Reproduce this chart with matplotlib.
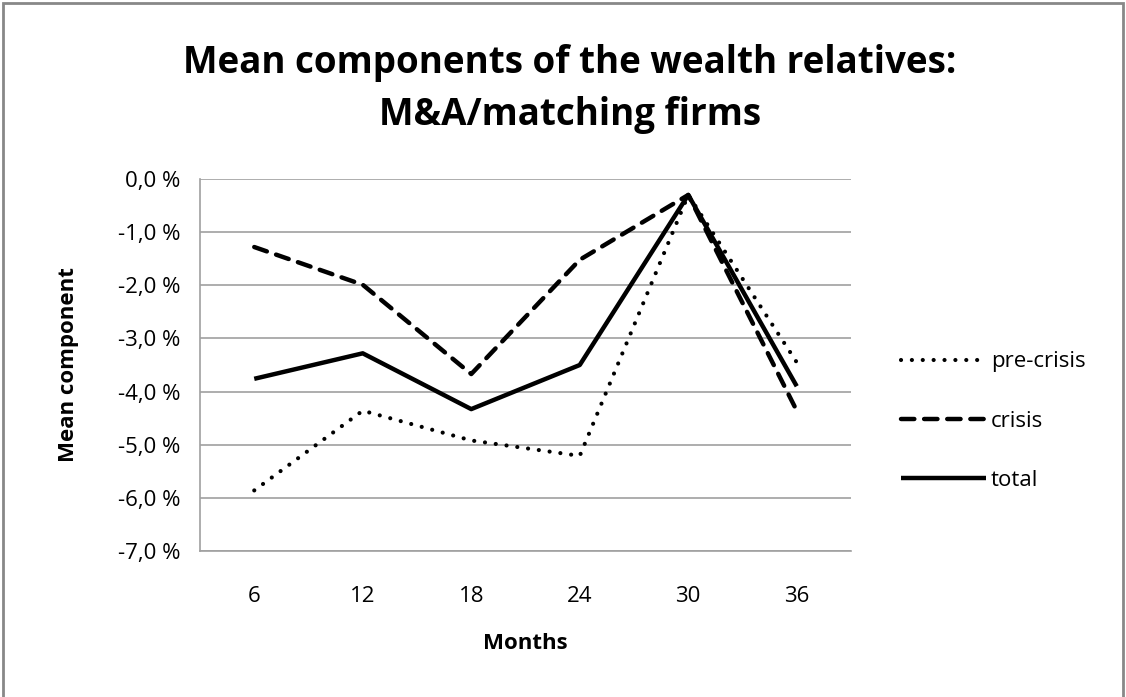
import matplotlib
matplotlib.use("Agg")
import matplotlib.pyplot as plt
from matplotlib.patches import Rectangle
from matplotlib.ticker import FuncFormatter

months = ["6", "12", "18", "24", "30", "36"]
pre_crisis = [-5.86, -4.36, -4.92, -5.21, -0.30, -3.45]
crisis = [-1.28, -1.99, -3.67, -1.52, -0.30, -4.36]
total = [-3.76, -3.28, -4.33, -3.50, -0.30, -3.90]

plt.rcParams['font.family'] = ['Open Sans', 'DejaVu Sans']

fig = plt.figure(figsize=(11.26, 6.97), dpi=100)
fig.patches.append(Rectangle((0.003, -0.01), 0.994, 1.005, transform=fig.transFigure,
                             fill=False, edgecolor='#888888', linewidth=2))

ax = fig.add_axes([200/1126, (697-551)/697, 651/1126, 372/697])
x = list(range(1, len(months) + 1))

ax.plot(x, pre_crisis, color='black', linewidth=3.0, linestyle=(0, (0.01, 2.6)),
        dash_capstyle='round', label='pre-crisis')
ax.plot(x, crisis, color='black', linewidth=3.2, linestyle=(0, (3.0, 2.2)),
        dash_capstyle='round', label='crisis')
ax.plot(x, total, color='black', linewidth=3.2, solid_capstyle='butt', label='total')

ax.set_xlim(0.5, 6.5)
ax.set_ylim(-7, 0)
ax.set_yticks([0, -1, -2, -3, -4, -5, -6, -7])
ax.yaxis.set_major_formatter(FuncFormatter(lambda v, p: f"{v:.1f}".replace('.', ',').replace('-0,0', '0,0') + " %"))
ax.set_xticks(x)
ax.set_xticklabels(months)
ax.grid(axis='y', color='#a0a0a0', linewidth=1.2)
ax.set_axisbelow(True)
for s in ['top', 'right']:
    ax.spines[s].set_visible(False)
for s in ['left', 'bottom']:
    ax.spines[s].set_color('#a0a0a0')
    ax.spines[s].set_linewidth(1.2)
ax.tick_params(length=0, labelsize=16, pad=14)
ax.tick_params(axis='x', pad=25)

ax.set_xlabel("Months", fontsize=16, fontweight='bold', labelpad=19)
ax.set_ylabel("Mean component", fontsize=16, fontweight='bold', labelpad=28)

fig.text(570/1126, 1 - 89/697, "Mean components of the wealth relatives:\nM&A/matching firms",
         ha='center', va='center', fontsize=26.5, fontweight='bold', linespacing=1.5)

ax.legend(loc='center left', bbox_to_anchor=(890/1126, (697-421)/697), bbox_transform=fig.transFigure,
          frameon=False, fontsize=16, handlelength=3.8, handletextpad=0.25, labelspacing=1.72,
          borderpad=0)

fig.savefig("out.png", dpi=100)
